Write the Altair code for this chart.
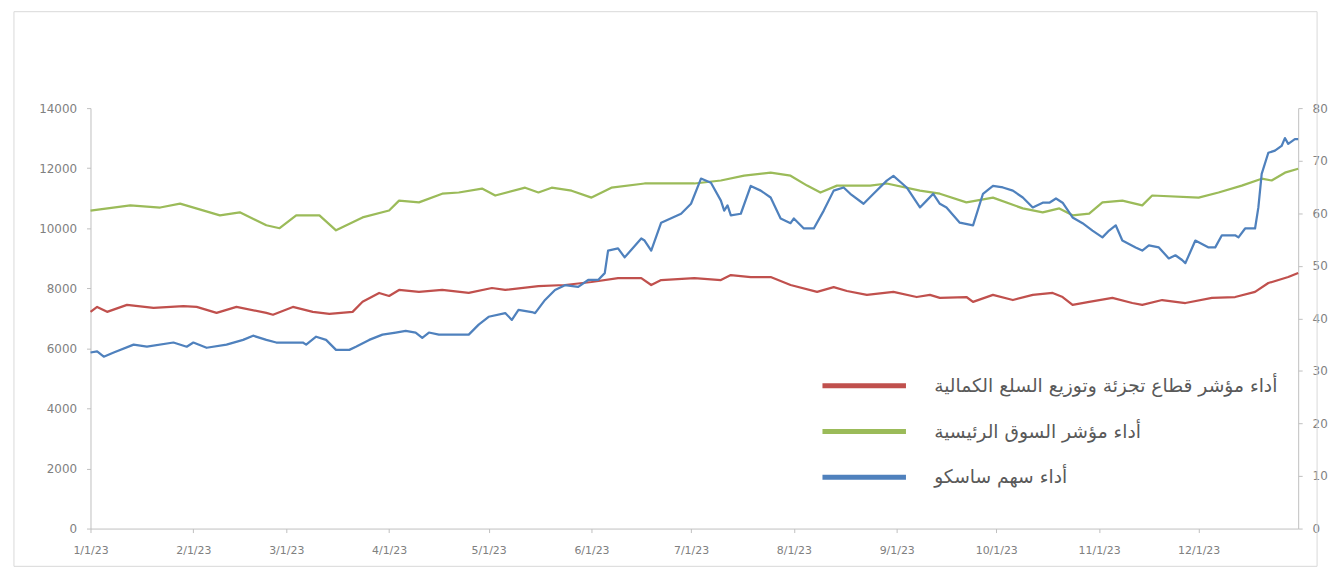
import altair as alt
import pandas as pd

# ---------------- data ----------------
red_label = "أداء مؤشر قطاع تجزئة وتوزيع السلع الكمالية"
green_label = "أداء مؤشر السوق الرئيسية"
blue_label = "أداء سهم ساسكو"

# day offsets from 2023-01-01
green_days = [0, 12, 21, 27, 39, 45, 53, 57, 62, 69, 74, 82, 90, 93, 99, 106, 111, 118, 122, 131,
              135, 139, 145, 151, 157, 167, 182, 190, 197, 205, 211, 216, 220, 225, 235, 240, 250, 256, 264, 272,
              281, 287, 292, 296, 301, 305, 311, 317, 320, 334, 340, 347, 353, 356, 360, 364]
green_vals = [10590, 10760, 10690, 10820, 10430, 10530, 10100, 10000, 10430, 10430,
              9930, 10360, 10590, 10920, 10860, 11150, 11190, 11320, 11090, 11350,
              11190, 11350, 11250, 11020, 11350, 11490, 11490, 11590, 11750, 11850,
              11750, 11420, 11190, 11420, 11420, 11490, 11250, 11150, 10860, 11020,
              10660, 10530, 10660, 10430, 10490, 10860, 10920, 10760, 11090, 11020,
              11190, 11420, 11650, 11590, 11850, 11980]

red_days = [0, 2, 5, 11, 19, 28, 32, 38, 44, 53, 55, 61, 67, 72, 79, 82, 87, 90, 93, 99,
            106, 114, 121, 125, 135, 143, 151, 159, 166, 169, 172, 182, 190, 193, 199, 205, 211, 219, 224, 228,
            234, 242, 249, 253, 256, 264, 266, 272, 278, 284, 290, 293, 296, 301, 308, 314, 317, 323, 330, 338,
            345, 351, 355, 361, 364]
red_vals = [7216, 7380, 7216, 7450, 7350, 7410, 7380, 7180, 7380, 7180,
            7120, 7380, 7216, 7150, 7216, 7550, 7845, 7745, 7945, 7880,
            7945, 7845, 8010, 7945, 8075, 8110, 8210, 8340, 8340, 8110,
            8275, 8340, 8275, 8440, 8375, 8375, 8110, 7880, 8040, 7910,
            7780, 7880, 7710, 7780, 7680, 7710, 7550, 7780, 7610, 7780,
            7845, 7710, 7450, 7550, 7680, 7510, 7450, 7610, 7510, 7680,
            7710, 7880, 8175, 8375, 8510]

blue_days = [0, 2, 4, 7, 13, 17, 25, 29, 31, 35, 41, 46, 49, 53, 56, 64, 65, 68, 71, 74,
             78, 80, 84, 88, 92, 95, 98, 100, 102, 105, 114, 117, 120, 125, 127, 129, 133, 134, 137, 140,
             143, 147, 150, 153, 155, 156, 159, 161, 166, 167, 169, 172, 178, 181, 184, 187, 190, 191, 192, 193,
             196, 199, 202, 205, 208, 211, 212, 215, 218, 221, 224, 227, 229, 233, 236, 240, 242, 246, 250, 252,
             254, 256, 258, 262, 266, 269, 272, 275, 278, 281, 284, 287, 289, 291, 293, 296, 299, 302, 305, 307,
             309, 311, 315, 317, 319, 322, 325, 327, 329, 330, 333, 337, 339, 341, 345, 346, 348, 351, 352, 353,
             355, 357, 359, 360, 361, 363, 364]
blue_vals = [33.5, 33.7, 32.7, 33.5, 35.0, 34.6, 35.4, 34.6, 35.4, 34.4,
             35.0, 35.9, 36.7, 35.9, 35.4, 35.4, 35.0, 36.5, 35.9, 34.0,
             34.0, 34.6, 35.9, 36.9, 37.3, 37.6, 37.3, 36.3, 37.3, 36.9,
             36.9, 38.8, 40.3, 41.0, 39.7, 41.6, 41.2, 41.0, 43.5, 45.4,
             46.3, 46.0, 47.3, 47.3, 48.6, 52.9, 53.3, 51.6, 55.2, 54.8,
             52.9, 58.2, 59.9, 61.8, 66.6, 65.8, 62.4, 60.5, 61.5, 59.6,
             59.9, 65.2, 64.3, 63.0, 59.0, 58.1, 59.0, 57.1, 57.1, 60.5,
             64.3, 64.9, 63.7, 61.8, 63.7, 66.2, 67.1, 64.9, 61.1, 62.4,
             63.7, 61.8, 61.1, 58.2, 57.7, 63.7, 65.2, 64.9, 64.3, 63.0,
             61.1, 62.0, 62.0, 62.8, 62.0, 59.2, 58.1, 56.7, 55.4, 56.7,
             57.7, 54.8, 53.5, 52.9, 53.9, 53.5, 51.4, 52.0, 51.1, 50.5,
             54.8, 53.5, 53.5, 55.8, 55.8, 55.4, 57.1, 57.1, 61.1, 67.5,
             71.5, 71.9, 72.8, 74.3, 73.2, 74.1, 74.1]

series_order = [red_label, green_label, blue_label]
series_colors = ["#c0504d", "#9bbb59", "#4f81bd"]
left_ticks = [0, 2000, 4000, 6000, 8000, 10000, 12000, 14000]
right_ticks = [0, 10, 20, 30, 40, 50, 60, 70, 80]

start = pd.Timestamp("2023-01-01")


def to_dates(days):
    return [(start + pd.Timedelta(days=d)).strftime("%Y-%m-%d") for d in days]


df_left = pd.concat([
    pd.DataFrame({"date": to_dates(red_days), "value": red_vals, "series": red_label}),
    pd.DataFrame({"date": to_dates(green_days), "value": green_vals, "series": green_label}),
])
df_right = pd.DataFrame({"date": to_dates(blue_days), "value": blue_vals, "series": blue_label})

# ---------------- chart ----------------
axis_font = "DejaVu Sans"
grey = "#808080"
line_grey = "#bfbfbf"

x_enc = alt.X(
    "date:T",
    scale=alt.Scale(type="utc", domain=["2023-01-01", "2023-12-31"]),
    axis=alt.Axis(
        title=None,
        labelExpr="utcFormat(datum.value, '%-m/%-d/%y')",
        tickCount={"interval": "month", "step": 1},
        labelFont=axis_font, labelFontSize=11, labelColor=grey,
        domainColor=line_grey, tickColor=line_grey, tickSize=4, labelPadding=12,
        grid=False, labelFlush=False, labelOverlap=False,
    ),
)

color_enc = alt.Color(
    "series:N",
    scale=alt.Scale(domain=series_order, range=series_colors),
    legend=alt.Legend(
        title=None, orient="none", legendX=769, legendY=270, direction="vertical",
        symbolType="M-7,0H7", symbolSize=144, symbolStrokeWidth=5,
        labelFont=axis_font, labelFontSize=18.8, labelColor="#595959",
        labelOffset=61, rowPadding=25, labelLimit=700,
    ),
)

left_layer = alt.Chart(df_left).mark_line(strokeWidth=2.25, strokeJoin="round").encode(
    x=x_enc,
    y=alt.Y(
        "value:Q",
        scale=alt.Scale(domain=[0, 14000], nice=False),
        axis=alt.Axis(
            orient="left", title=None, values=left_ticks, format="d",
            labelFont=axis_font, labelFontSize=12, labelColor=grey,
            domainColor=line_grey, tickColor=line_grey, tickSize=4, labelPadding=10,
            grid=False,
        ),
    ),
    color=color_enc,
)

right_layer = alt.Chart(df_right).mark_line(strokeWidth=2.25, strokeJoin="round").encode(
    x=x_enc,
    y=alt.Y(
        "value:Q",
        scale=alt.Scale(domain=[0, 80], nice=False),
        axis=alt.Axis(
            orient="right", title=None, values=right_ticks, format="d",
            labelFont=axis_font, labelFontSize=12, labelColor=grey,
            domainColor=line_grey, tickColor=line_grey, tickSize=4, labelPadding=10,
            grid=False,
        ),
    ),
    color=color_enc,
)

frame = alt.Chart(alt.Data(values=[{"f": 1}])).mark_rect(
    filled=False, color="#d9d9d9", strokeWidth=1
).encode(
    x=alt.value(-77), x2=alt.value(1234), y=alt.value(-97), y2=alt.value(461)
)

chart = alt.layer(frame, left_layer, right_layer).resolve_scale(
    y="independent"
).properties(
    width=1215, height=423,
    padding={"left": 83, "top": 99, "right": 31, "bottom": 45},
    autosize=alt.AutoSizeParams(type="none"),
    background="white",
).configure_view(stroke=None)

chart.save("out.html", embed_options={"renderer": "svg", "actions": False})
